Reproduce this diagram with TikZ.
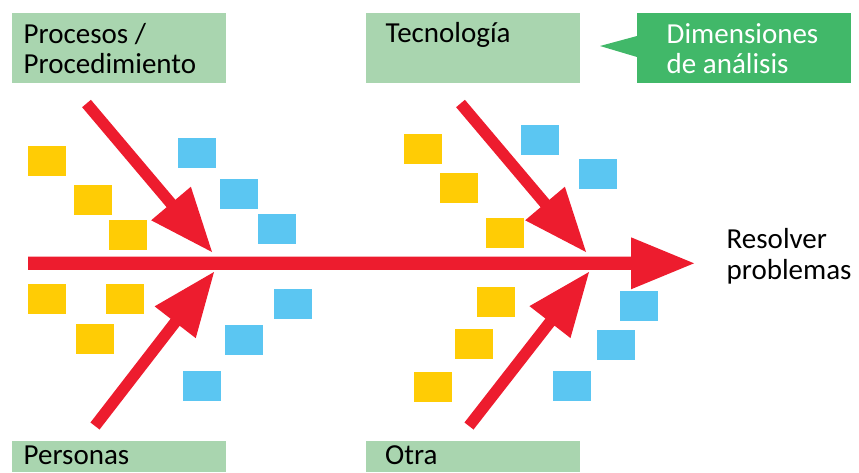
\documentclass[tikz,border=0pt]{standalone}
\usepackage{fontspec}
\setmainfont{Carlito}
\usetikzlibrary{calc}
\definecolor{labgreen}{HTML}{A9D5AF}
\definecolor{callgreen}{HTML}{41B869}
\definecolor{fishred}{HTML}{ED1C2E}
\definecolor{noteyellow}{HTML}{FFCC05}
\definecolor{noteblue}{HTML}{5BC6F2}
\newcommand\fisharrow[5]{%
  \coordinate (#1base) at ($(#2)!#4!(#1)$);
  \fill[fishred] ($(#1)!#3!90:(#2)$) -- ($(#1base)!#3!90:(#2)$) -- ($(#1base)!#5!90:(#2)$) -- (#2)
    -- ($(#1base)!#5!-90:(#2)$) -- ($(#1base)!#3!-90:(#2)$) -- ($(#1)!#3!-90:(#2)$) -- cycle;}
\begin{document}
\begin{tikzpicture}[x=1pt,y=-1pt,
  labbox/.style={fill=labgreen,draw=none,inner sep=0pt,minimum width=214pt,anchor=north west},
  calloutbox/.style={fill=callgreen,draw=none,inner sep=0pt,minimum width=214pt,minimum height=70pt,anchor=north west},
  ynote/.style={fill=noteyellow,draw=none,inner sep=0pt,minimum width=38pt,minimum height=30pt,anchor=north west},
  bnote/.style={fill=noteblue,draw=none,inner sep=0pt,minimum width=38pt,minimum height=30pt,anchor=north west},
  txt/.style={inner sep=0pt,anchor=base west,font=\fontsize{29}{30}\selectfont},
  wtxt/.style={txt,text=white}]
\useasboundingbox (0,0) rectangle (859,472);
% category boxes
\node[labbox,minimum height=70pt] (procbox) at (12,13) {};
\node[labbox,minimum height=70pt] (tecbox) at (366,13) {};
\node[labbox,minimum height=31pt] (perbox) at (12,441) {};
\node[labbox,minimum height=31pt] (otrbox) at (366,441) {};
\node[txt] (proc1) at (23.5,43) {Procesos /};
\node[txt] (proc2) at (23.5,73) {Procedimiento};
\node[txt] (tec) at (385.5,42) {Tecnología};
\node[txt] (per) at (23.5,464) {Personas};
\node[txt] (otr) at (385,464) {Otra};
% callout
\node[calloutbox] (callout) at (637,13) {};
\coordinate (calltip) at (600,46);
\fill[callgreen] ($(callout.north west)+(0,23)$) -- (calltip) -- ($(callout.north west)+(0,44)$) -- cycle;
\node[wtxt] (dim1) at (666.5,43) {Dimensiones};
\node[wtxt] (dim2) at (666.5,73) {de análisis};
% effect
\node[txt] (res1) at (726.5,248) {Resolver};
\node[txt] (res2) at (726.5,279) {problemas};
% notes
\node[ynote] (y1) at (28,146) {};
\node[ynote] (y2) at (74,185) {};
\node[ynote] (y3) at (109,220) {};
\node[bnote] (b1) at (178,138) {};
\node[bnote] (b2) at (220,179) {};
\node[bnote] (b3) at (258,214) {};
\node[ynote] (y4) at (28,284) {};
\node[ynote] (y5) at (106,284) {};
\node[ynote] (y6) at (76,324) {};
\node[bnote] (b4) at (274,289) {};
\node[bnote] (b5) at (225,325) {};
\node[bnote] (b6) at (183,371) {};
\node[ynote] (y7) at (404,134) {};
\node[ynote] (y8) at (440,173) {};
\node[ynote] (y9) at (486,218) {};
\node[bnote] (b7) at (521,125) {};
\node[bnote] (b8) at (579,159) {};
\node[ynote] (y10) at (477,287) {};
\node[ynote] (y11) at (455,329) {};
\node[ynote] (y12) at (414,372) {};
\node[bnote] (b9) at (620,291) {};
\node[bnote] (b10) at (597,330) {};
\node[bnote] (b11) at (553,371) {};
% arrows
\coordinate (spS) at (28,263.3);
\coordinate (spT) at (694,263.3);
\fisharrow{spS}{spT}{6.6pt}{63pt}{26pt}
\coordinate (tlS) at (86.5,103.5);
\coordinate (tlT) at (212,252);
\fisharrow{tlS}{tlT}{5.75pt}{63.5pt}{26pt}
\coordinate (blS) at (95,426);
\coordinate (blT) at (214,272);
\fisharrow{blS}{blT}{5.75pt}{63.5pt}{26pt}
\coordinate (trS) at (460.5,103.5);
\coordinate (trT) at (586,252);
\fisharrow{trS}{trT}{5.75pt}{63.5pt}{26pt}
\coordinate (brS) at (469,426);
\coordinate (brT) at (589,272);
\fisharrow{brS}{brT}{5.75pt}{63.5pt}{26pt}
\end{tikzpicture}
\end{document}
